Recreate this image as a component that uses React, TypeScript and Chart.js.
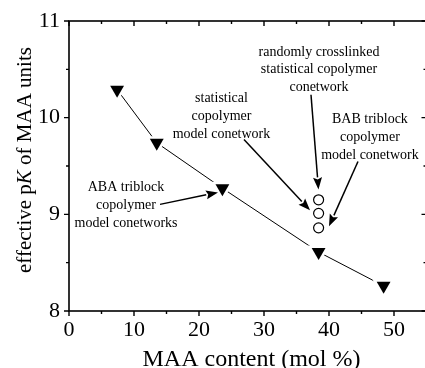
import React, { useEffect, useRef } from 'react';
import { Chart, registerables } from 'chart.js';

Chart.register(...registerables);

// ---- data ----
const triangleX = [7.4, 13.5, 23.6, 38.4, 48.4];
const triangleY = [10.29, 9.74, 9.27, 8.61, 8.26];
const circleX = [38.4, 38.4, 38.4];
const circleY = [9.15, 9.01, 8.86];

const xMajorTicks = [0, 10, 20, 30, 40, 50];
const xMinorTicks = [5, 15, 25, 35, 45];
const yMajorTicks = [8, 9, 10, 11];
const yMinorTicks = [8.5, 9.5, 10.5];

const xTitle = 'MAA content (mol %)';
const yTitleParts = [
  { text: 'effective p', italic: false },
  { text: 'K', italic: true },
  { text: ' of MAA units', italic: false },
];

// annotation texts, anchors in data coordinates (x centre, first line y)
const labelRandom = ['randomly crosslinked', 'statistical copolymer', 'conetwork'];
const labelStat = ['statistical', 'copolymer', 'model conetwork'];
const labelBAB = ['BAB triblock', 'copolymer', 'model conetwork'];
const labelABA = ['ABA triblock', 'copolymer', 'model conetworks'];
const labelAnchorsX = [38.46, 23.46, 46.3, 8.77];
const labelAnchorsY = [10.68, 10.196, 9.979, 9.278];

// arrows [fromX, fromY, toX, toY] in data coordinates
const arrowFromX = [37.23, 26.92, 44.46, 14.0];
const arrowFromY = [10.237, 9.773, 9.546, 9.103];
const arrowToX = [38.38, 37.08, 40.0, 22.92];
const arrowToY = [9.258, 9.041, 8.876, 9.227];

const SERIF = '"Liberation Serif", "Times New Roman", serif';

const decorPlugin = {
  id: 'decor',
  afterDraw(chart: any) {
    const ctx: CanvasRenderingContext2D = chart.ctx;
    const { left, right, top, bottom } = chart.chartArea;
    const xs = chart.scales.x;
    const ys = chart.scales.y;
    ctx.save();
    ctx.strokeStyle = '#000';
    ctx.fillStyle = '#000';
    // frame
    ctx.lineWidth = 1.6;
    ctx.strokeRect(left, top, right - left, bottom - top);
    // ticks
    ctx.lineWidth = 1.4;
    ctx.beginPath();
    const xt = (v: number, len: number) => {
      const px = xs.getPixelForValue(v);
      ctx.moveTo(px, bottom);
      ctx.lineTo(px, bottom + len);
      ctx.moveTo(px, top);
      ctx.lineTo(px, top + len);
    };
    const yt = (v: number, len: number) => {
      const py = ys.getPixelForValue(v);
      ctx.moveTo(left, py);
      ctx.lineTo(left - len, py);
      ctx.moveTo(right, py);
      ctx.lineTo(right - len, py);
    };
    xMajorTicks.forEach((v) => xt(v, 5));
    xMinorTicks.forEach((v) => xt(v, 3));
    yMajorTicks.forEach((v) => yt(v, 5));
    yMinorTicks.forEach((v) => yt(v, 3));
    ctx.stroke();

    // x title
    ctx.font = `24px ${SERIF}`;
    ctx.textAlign = 'center';
    ctx.textBaseline = 'alphabetic';
    ctx.fillText(xTitle, 251.5, 366);

    // y title with italic K
    ctx.save();
    ctx.translate(31, (top + bottom) / 2 - 6);
    ctx.rotate(-Math.PI / 2);
    const fonts = yTitleParts.map((p) => (p.italic ? `italic 21px ${SERIF}` : `21px ${SERIF}`));
    let total = 0;
    const widths = yTitleParts.map((p, i) => {
      ctx.font = fonts[i];
      const w = ctx.measureText(p.text).width;
      total += w;
      return w;
    });
    let cx = -total / 2;
    ctx.textAlign = 'left';
    yTitleParts.forEach((p, i) => {
      ctx.font = fonts[i];
      ctx.fillText(p.text, cx, 0);
      cx += widths[i];
    });
    ctx.restore();

    // annotation labels
    ctx.font = `14px ${SERIF}`;
    ctx.textAlign = 'center';
    ctx.textBaseline = 'middle';
    const blocks = [labelRandom, labelStat, labelBAB, labelABA];
    blocks.forEach((lines, i) => {
      const px = xs.getPixelForValue(labelAnchorsX[i]);
      const py = ys.getPixelForValue(labelAnchorsY[i]);
      lines.forEach((t, j) => ctx.fillText(t, px, py + j * 17.7));
    });

    // arrows
    ctx.lineWidth = 1.5;
    arrowFromX.forEach((_, i) => {
      const x1 = xs.getPixelForValue(arrowFromX[i]);
      const y1 = ys.getPixelForValue(arrowFromY[i]);
      const x2 = xs.getPixelForValue(arrowToX[i]);
      const y2 = ys.getPixelForValue(arrowToY[i]);
      const ang = Math.atan2(y2 - y1, x2 - x1);
      const headLen = 12;
      const headHalf = 4.5;
      const bx = x2 - headLen * Math.cos(ang);
      const by = y2 - headLen * Math.sin(ang);
      ctx.beginPath();
      ctx.moveTo(x1, y1);
      ctx.lineTo(bx, by);
      ctx.stroke();
      ctx.beginPath();
      ctx.moveTo(x2, y2);
      ctx.lineTo(bx + headHalf * Math.sin(ang), by - headHalf * Math.cos(ang));
      ctx.lineTo(bx + 2 * Math.cos(ang), by + 2 * Math.sin(ang));
      ctx.lineTo(bx - headHalf * Math.sin(ang), by + headHalf * Math.cos(ang));
      ctx.closePath();
      ctx.fill();
    });
    ctx.restore();
  },
};

const zeroPad = (s: any) => {
  s.paddingLeft = 0;
  s.paddingRight = 0;
  s.paddingTop = 0;
  s.paddingBottom = 0;
};

export default function App() {
  const ref = useRef<HTMLCanvasElement>(null);
  useEffect(() => {
    document.body.style.margin = '0';
    const triPts = triangleX.map((x, i) => ({ x, y: triangleY[i] }));
    const circPts = circleX.map((x, i) => ({ x, y: circleY[i] }));
    const chart = new Chart(ref.current as HTMLCanvasElement, {
      type: 'scatter',
      data: {
        datasets: [
          {
            label: 'triangles',
            data: triPts,
            pointStyle: 'triangle',
            rotation: 180,
            pointRadius: 8,
            backgroundColor: '#000',
            borderColor: '#000',
            borderWidth: 0,
            showLine: false,
            order: 0,
          } as any,
          {
            label: 'circles',
            data: circPts,
            pointStyle: 'circle',
            pointRadius: 5,
            backgroundColor: '#fff',
            borderColor: '#000',
            borderWidth: 1.2,
            showLine: false,
            order: 0,
          } as any,
          {
            label: 'gap',
            data: triPts,
            pointStyle: 'triangle',
            rotation: 180,
            pointRadius: 13,
            backgroundColor: '#fff',
            borderColor: '#fff',
            borderWidth: 0,
            showLine: false,
            order: 1,
          } as any,
          {
            label: 'line',
            data: triPts,
            showLine: true,
            pointRadius: 0,
            borderColor: '#000',
            borderWidth: 1,
            order: 2,
          } as any,
        ],
      },
      options: {
        animation: false,
        responsive: false,
        devicePixelRatio: 1,
        layout: { autoPadding: false, padding: { left: 0, right: 5.5, top: 21, bottom: 0 } },
        plugins: { legend: { display: false }, tooltip: { enabled: false } },
        scales: {
          x: {
            type: 'linear',
            min: 0,
            max: 55,
            afterFit: (s: any) => {
              s.height = 57;
              zeroPad(s);
            },
            afterBuildTicks: (s: any) => {
              s.ticks = xMajorTicks.map((v) => ({ value: v }));
            },
            grid: { display: false, drawTicks: false },
            border: { display: false },
            ticks: {
              padding: 6,
              color: '#000',
              font: { family: SERIF, size: 22 },
              maxRotation: 0,
            },
          },
          y: {
            type: 'linear',
            min: 8,
            max: 11,
            afterFit: (s: any) => {
              s.width = 69;
              zeroPad(s);
            },
            afterBuildTicks: (s: any) => {
              s.ticks = yMajorTicks.map((v) => ({ value: v }));
            },
            grid: { display: false, drawTicks: false },
            border: { display: false },
            ticks: {
              padding: 9,
              color: '#000',
              font: { family: SERIF, size: 22 },
            },
          },
        },
      },
      plugins: [decorPlugin],
    } as any);
    return () => chart.destroy();
  }, []);
  return (
    <div style={{ width: 425, height: 368, overflow: 'hidden', position: 'relative', background: '#fff' }}>
      <canvas ref={ref} width={432} height={368} style={{ display: 'block' }} />
    </div>
  );
}
